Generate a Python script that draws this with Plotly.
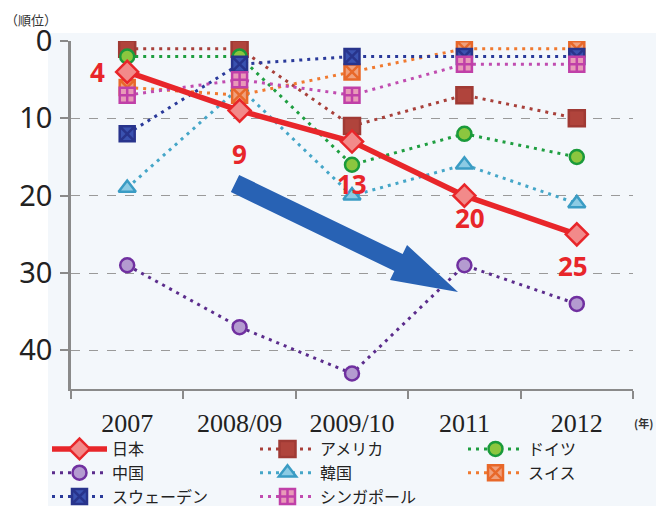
import plotly.graph_objects as go

# ---- data ----
years = ["2007", "2008/09", "2009/10", "2011", "2012"]
japan = [4, 9, 13, 20, 25]
america = [1, 1, 11, 7, 10]
germany = [2, 2, 16, 12, 15]
china = [29, 37, 43, 29, 34]
korea = [19, 6, 20, 16, 21]
switzerland = [6, 7, 4, 1, 1]
sweden = [12, 3, 2, 2, 2]
singapore = [7, 5, 7, 3, 3]
y_ticks = [0, 10, 20, 30, 40]

# ---- layout geometry (pixels) ----
W, H = 656, 506
L, R, T, B = 71, 23, 41, 117
PW, PH = W - L - R, H - T - B


def px(x):
    return (x - L) / PW


def py(y):
    return (H - B - y) / PH


fig = go.Figure()

dot = "3px,5px"
jp = "Noto Sans CJK JP"

series = [
    # name, values, line color, symbol, fill, marker line color, size, legend, rank
    ("中国", china, "#5b2c8c", "circle", "#b49bd0", "#7030a0", 14, "legend", 2),
    ("韓国", korea, "#45a6c8", "triangle-up", "#8ccbe4", "#3a9cc4", 15, "legend2", 2),
    ("アメリカ", america, "#a8403a", "square", "#b0443c", "#a03a34", 16, "legend2", 1),
    ("ドイツ", germany, "#1e9e40", "circle", "#8cc63f", "#1a9a3a", 14, "legend3", 1),
    ("スイス", switzerland, "#f07a30", "square-x", "#f0a07c", "#e8682a", 15, "legend3", 2),
    ("スウェーデン", sweden, "#2a3a9a", "square-x", "#3a52b0", "#28348c", 15, "legend", 3),
    ("シンガポール", singapore, "#c04cb0", "square-cross", "#e89ab8", "#c040a8", 15, "legend2", 3),
]

for name, vals, lc, sym, fill, mlc, size, lg, rank in series:
    fig.add_trace(go.Scatter(
        x=years, y=vals, name=name, mode="lines+markers",
        line=dict(color=lc, width=3, dash=dot),
        marker=dict(symbol=sym, size=size, color=fill, line=dict(color=mlc, width=2.5)),
        legend=lg, legendrank=rank,
    ))

fig.add_trace(go.Scatter(
    x=years, y=japan, name="日本", mode="lines+markers",
    line=dict(color="#e8262a", width=5.5),
    marker=dict(symbol="diamond", size=17, color="#f28a8a", line=dict(color="#e8262a", width=2.5)),
    legend="legend", legendrank=1,
))

# Japan rank labels (x given as category index)
label_offsets = [(-30, 0), (0, -43), (0, -42), (6, -22), (-4, -32)]
for i, (v, (dx, dy)) in enumerate(zip(japan, label_offsets)):
    fig.add_annotation(x=i, y=v, text=str(v), showarrow=False, xshift=dx, yshift=dy,
                       font=dict(family="Noto Sans, Open Sans", size=26, color="#e8262a", weight="bold"))

# big blue arrow (decoration)
S = (235.0, 183.5)
Tp = (458.0, 292.0)
Bc = (398.5, 262.5)
n = (-0.437, 0.899)
hw_s, hw_h = 9.5, 19.5
pts = [
    (S[0] - hw_s * n[0], S[1] - hw_s * n[1]),
    (Bc[0] - hw_s * n[0], Bc[1] - hw_s * n[1]),
    (Bc[0] - hw_h * n[0], Bc[1] - hw_h * n[1]),
    Tp,
    (Bc[0] + hw_h * n[0], Bc[1] + hw_h * n[1]),
    (Bc[0] + hw_s * n[0], Bc[1] + hw_s * n[1]),
    (S[0] + hw_s * n[0], S[1] + hw_s * n[1]),
]
path = "M " + " L ".join(f"{px(a):.5f},{py(b):.5f}" for a, b in pts) + " Z"
fig.add_shape(type="path", path=path, xref="paper", yref="paper",
              fillcolor="#2862b4", line=dict(width=0), layer="above")

# light chart background
fig.add_shape(type="rect", xref="paper", yref="paper",
              x0=px(48), x1=px(656), y0=py(506), y1=py(33),
              fillcolor="#f3f7fb", line=dict(width=0), layer="below")

fig.add_annotation(text="（順位）", xref="paper", yref="paper", x=px(3), y=py(8),
                   xanchor="left", yanchor="top", showarrow=False,
                   font=dict(family=jp, size=13, color="#333333"))
fig.add_annotation(text="(年)", xref="paper", yref="paper", x=px(632), y=py(413),
                   xanchor="left", yanchor="top", showarrow=False,
                   font=dict(family=jp, size=11, color="#333333", weight="bold"))

legend_common = dict(orientation="v", xref="container", yref="container",
                     xanchor="left", yanchor="top", bgcolor="rgba(0,0,0,0)",
                     borderwidth=0, itemwidth=55,
                     font=dict(family=jp, size=16, color="#222222"))
ytop = 1 - 432 / H

fig.update_layout(
    width=W, height=H,
    margin=dict(l=L, r=R, t=T, b=B, autoexpand=False),
    paper_bgcolor="white",
    plot_bgcolor="rgba(0,0,0,0)",
    showlegend=True,
    legend=dict(x=47 / W, y=ytop, **legend_common),
    legend2=dict(x=255 / W, y=ytop, **legend_common),
    legend3=dict(x=463 / W, y=ytop, **legend_common),
    xaxis=dict(
        type="category", categoryorder="array", categoryarray=years,
        tickson="boundaries", ticks="outside", ticklen=8, tickwidth=2, tickcolor="#8a8a8a",
        showline=True, linecolor="#8a8a8a", linewidth=2, showgrid=False,
        tickfont=dict(family="Liberation Serif", size=26, color="#222222"),
        ticklabelstandoff=10, automargin=False,
        range=[-0.5, 4.5],
    ),
    yaxis=dict(
        range=[45, 0], tickvals=y_ticks, ticks="outside", ticklen=8, tickwidth=1.5,
        tickcolor="#8a8a8a",
        showline=True, linecolor="#8a8a8a", linewidth=2.5,
        showgrid=True, gridcolor="#9a9a9a", gridwidth=1.2, griddash="dash",
        zeroline=False, automargin=False,
        tickfont=dict(family="Noto Sans", size=29, color="#222222"),
        ticklabelstandoff=2,
    ),
)

fig.write_html("out.html", config={"displayModeBar": False},
               post_script="document.body.style.margin='0';")
